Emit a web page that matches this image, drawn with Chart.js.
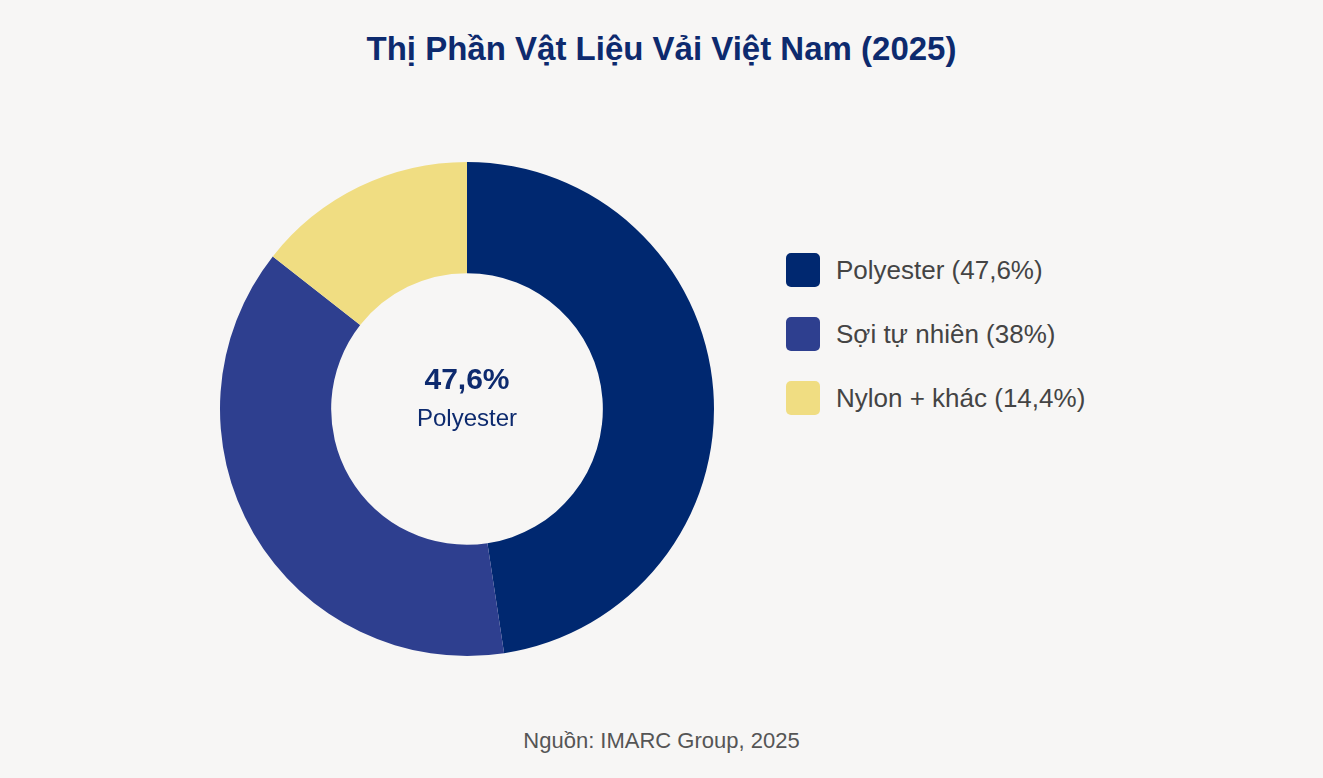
<!DOCTYPE html>
<html><head><meta charset="utf-8">
<script src="https://cdn.jsdelivr.net/npm/chart.js@4"></script>
<style>
body{margin:0;width:1323px;height:778px;background:#f7f6f5;font-family:"Liberation Sans",Arial,sans-serif;position:relative;overflow:hidden}
#title{position:absolute;top:30px;left:0;width:1323px;text-align:center;font-size:33px;font-weight:bold;color:#0d2a6e}
#wrap{position:absolute;left:207px;top:149px;width:520px;height:520px}
#center{position:absolute;left:207px;top:362px;width:520px;text-align:center;color:#0d2a6e}
#legend{position:absolute;left:786px;top:238px}
.li{display:flex;align-items:center;height:64px;font-size:26px;color:#444}
.bx{width:34px;height:34px;border-radius:5px;margin-right:16px}
#src{position:absolute;top:728px;width:1323px;text-align:center;font-size:22px;color:#555}
</style></head><body>
<div id="title">Thị Phần Vật Liệu Vải Việt Nam (2025)</div>
<div id="wrap"><canvas id="c" width="520" height="520"></canvas></div>
<div id="center"><div style="font-size:30px;font-weight:bold">47,6%</div><div style="font-size:24px;margin-top:8px">Polyester</div></div>
<div id="legend"></div>
<div id="src">Nguồn: IMARC Group, 2025</div>
<script>
const categories=["Polyester","Sợi tự nhiên","Nylon + khác"];
const values=[47.6,38,14.4];
const colors=["#002870","#2e3f8f","#f0dd82"];
const lg=document.getElementById('legend');
categories.forEach((c,i)=>{lg.innerHTML+=`<div class="li"><div class="bx" style="background:${colors[i]}"></div>${c} (${String(values[i]).replace('.',',')}%)</div>`;});
new Chart(document.getElementById('c'),{type:'doughnut',data:{labels:categories,datasets:[{data:values,backgroundColor:colors,borderWidth:0}]},
options:{responsive:false,animation:false,cutout:'55%',layout:{padding:13},plugins:{legend:{display:false},tooltip:{enabled:false}}}});
</script></body></html>
